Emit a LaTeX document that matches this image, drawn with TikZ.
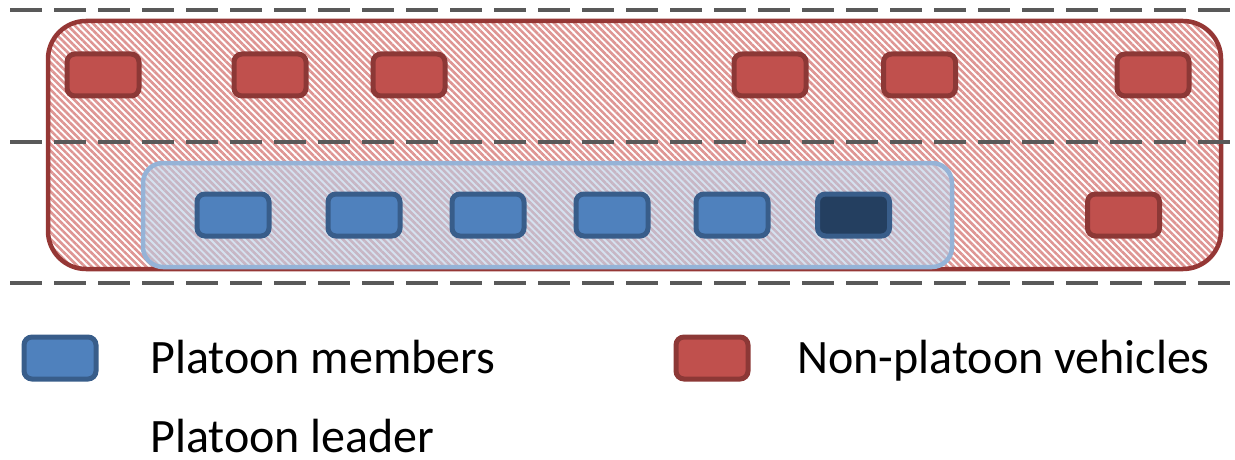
\documentclass[tikz,border=0pt]{standalone}
\usepackage{fontspec}
\setmainfont{Carlito}
\usetikzlibrary{patterns.meta}
\definecolor{lanegray}{HTML}{595959}
\definecolor{redfill}{HTML}{C0504D}
\definecolor{redline}{HTML}{8C3836}
\definecolor{zonered}{HTML}{953735}
\definecolor{stripered}{HTML}{DE9593}
\definecolor{bluefill}{HTML}{4F81BD}
\definecolor{blueline}{HTML}{385D8A}
\definecolor{leaderfill}{HTML}{243F60}
\definecolor{zoneblue}{HTML}{95B3D7}
\definecolor{zonebluefill}{HTML}{B9CDE5}
\tikzset{
  lane/.style={draw=lanegray, line width=4.5pt, dash pattern=on 32pt off 12pt},
  car/.style={rectangle, rounded corners=8pt, line width=5pt, minimum width=72pt, minimum height=42pt, inner sep=0pt},
  othercar/.style={car, fill=redfill, draw=redline},
  membercar/.style={car, fill=bluefill, draw=blueline},
  leadercar/.style={car, fill=leaderfill, draw=blueline},
  legendtext/.style={anchor=base west, inner sep=0pt, font=\fontsize{48}{56}\selectfont},
}
\begin{document}
\begin{tikzpicture}[x=1pt, y=-1pt]
\useasboundingbox (0,0) rectangle (1235,460);

% outer zone of non-platoon traffic
\draw[draw=zonered, line width=4.5pt, rounded corners=38pt,
      pattern={Lines[angle=-45, distance=4.8pt, line width=2.6pt]}, pattern color=stripered]
  (48,21) rectangle (1221,269);

% lane markings
\coordinate (l1a) at (10,10);  \coordinate (l1b) at (1235,10);
\coordinate (l2a) at (10,142); \coordinate (l2b) at (1235,142);
\coordinate (l3a) at (10,283); \coordinate (l3b) at (1235,283);
\draw[lane] (l1a) -- (l1b);
\draw[lane] (l2a) -- (l2b);
\draw[lane] (l3a) -- (l3b);

% platoon zone
\draw[draw=zoneblue, line width=4.5pt, rounded corners=20pt,
      fill=zonebluefill, fill opacity=0.6]
  (143,163) rectangle (952,267);

% non-platoon vehicles
\node[othercar] (r1) at (103,75) {};
\node[othercar] (r2) at (270,75) {};
\node[othercar] (r3) at (409,75) {};
\node[othercar] (r4) at (770,75) {};
\node[othercar] (r5) at (919.5,75) {};
\node[othercar] (r6) at (1153,75) {};
\node[othercar] (r7) at (1123.5,215) {};

% platoon members and leader
\node[membercar] (b1) at (233,215) {};
\node[membercar] (b2) at (364,215) {};
\node[membercar] (b3) at (488,215) {};
\node[membercar] (b4) at (612,215) {};
\node[membercar] (b5) at (732,215) {};
\node[leadercar] (lead) at (853.5,215) {};

% legend
\node[membercar] (keyb) at (60,358) {};
\node[legendtext] (keybt) at (150,373) {Platoon members};
\node[othercar] (keyr) at (712,358) {};
\node[legendtext] (keyrt) at (797,373) {Non-platoon vehicles};
\node[legendtext] (keylt) at (150,452) {Platoon leader};
\end{tikzpicture}
\end{document}
